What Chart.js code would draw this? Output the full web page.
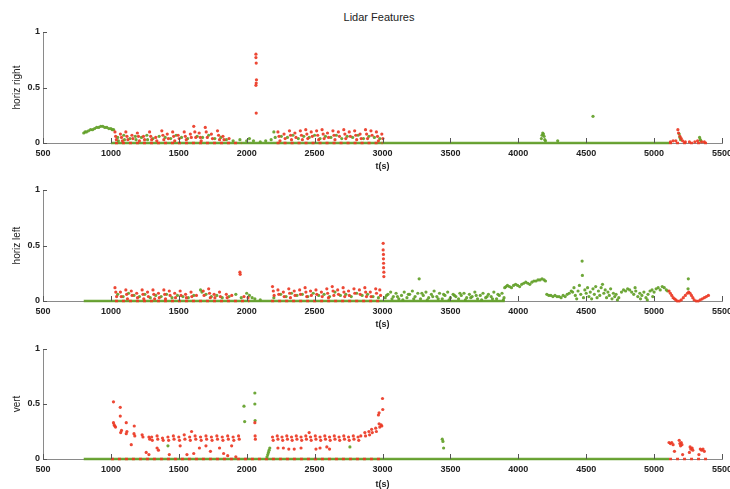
<!DOCTYPE html>
<html>
<head>
<meta charset="utf-8">
<script src="https://cdn.jsdelivr.net/npm/chart.js@4"></script>
<style>
  html, body { margin: 0; padding: 0; background: #fff; overflow: hidden; }
  #wrap { position: relative; width: 730px; height: 489px; }
  canvas { position: absolute; left: 0; }
  #title { position: absolute; top: 11px; left: 300px; width: 158px; text-align: center;
           font: 11px "Liberation Sans", Arial, sans-serif; color: #222; }
</style>
</head>
<body>
<div id="wrap">
  <div id="title">Lidar Features</div>
  <canvas id="c1" width="730" height="171" style="top:0px"></canvas>
  <canvas id="c2" width="730" height="158" style="top:171px"></canvas>
  <canvas id="c3" width="730" height="160" style="top:329px"></canvas>
</div>
<script>
// axes
const xTicks = [500, 1000, 1500, 2000, 2500, 3000, 3500, 4000, 4500, 5000, 5500];
const yTicks = [0, 0.5, 1];

// horiz right
const hrRed = [
  [1030,.10],[1035,.06],[1040,.03],[1070,.08],[1078,.05],[1085,.02],
  [1110,.10],[1118,.06],[1125,.03],[1155,.07],[1162,.04],
  [1195,.09],[1203,.06],[1210,.02],[1240,.06],[1248,.03],
  [1285,.10],[1293,.06],[1300,.03],[1330,.05],[1338,.02],
  [1375,.11],[1383,.07],[1390,.03],[1415,.08],[1423,.04],
  [1455,.10],[1462,.06],[1470,.02],[1495,.07],[1503,.04],
  [1540,.10],[1548,.06],[1555,.03],[1585,.08],[1592,.05],
  [1610,.15],[1618,.10],[1625,.05],[1650,.09],[1658,.05],[1665,.02],
  [1695,.14],[1702,.10],[1710,.05],[1740,.08],[1748,.04],
  [1785,.11],[1793,.07],[1800,.03],[1825,.06],[1833,.03],[1870,.04],
  [2068,.80],[2068,.77],[2070,.72],[2072,.57],[2070,.54],[2068,.52],[2070,.27],
  [2230,.10],[2238,.06],[2245,.02],[2275,.08],[2283,.04],
  [2315,.11],[2323,.07],[2330,.03],[2355,.09],[2363,.05],
  [2395,.11],[2403,.07],[2410,.03],[2435,.12],[2443,.08],[2450,.04],
  [2475,.10],[2483,.06],[2515,.11],[2523,.07],[2530,.03],
  [2555,.12],[2563,.08],[2570,.04],[2595,.09],[2603,.05],
  [2635,.11],[2643,.07],[2650,.03],[2675,.10],[2683,.06],
  [2715,.12],[2723,.08],[2730,.04],[2755,.10],[2763,.06],
  [2795,.11],[2803,.07],[2810,.03],[2835,.08],[2843,.04],
  [2875,.12],[2883,.08],[2890,.04],[2915,.11],[2923,.07],
  [2955,.10],[2963,.06],[2970,.02],[2995,.08],[3003,.04],
  [5120,.01],[5140,.02],[5160,.02],[5175,.12],[5180,.09],[5190,.06],[5200,.04],
  [5210,.02],[5230,.01],[5260,.01],[5300,.01],[5320,.02],[5350,.01],[5370,.01]
];
const hrGreen = [
  [800,.09],[810,.10],[820,.10],[835,.11],[850,.12],[865,.12],[880,.13],[895,.14],
  [910,.14],[925,.15],[940,.15],[955,.14],[970,.14],[985,.13],[1000,.13],[1010,.12],[1020,.12],
  [1050,.05],[1055,.02],[1095,.07],[1100,.03],[1140,.04],[1180,.06],[1185,.03],[1225,.05],
  [1265,.07],[1270,.03],[1310,.04],[1355,.06],[1400,.05],[1440,.04],[1480,.07],[1520,.05],
  [1565,.04],[1635,.06],[1675,.05],[1720,.07],[1765,.04],[1810,.05],[1850,.03],[1900,.02],
  [1950,.03],[2000,.02],[2020,.04],[2050,.02],[2100,.01],[2140,.02],[2180,.03],[2200,.10],
  [2210,.05],[2255,.06],[2300,.05],[2340,.07],[2380,.04],[2420,.06],[2460,.05],[2500,.07],
  [2540,.04],[2580,.06],[2620,.05],[2660,.07],[2700,.04],[2740,.06],[2780,.05],[2820,.07],
  [2860,.04],[2900,.06],[2940,.05],[2980,.04],
  [4170,.04],[4175,.07],[4180,.09],[4185,.08],[4190,.06],[4195,.03],[4200,.02],
  [4290,.02],[4550,.24],
  [5185,.08],[5190,.05],[5195,.03],[5335,.05],[5340,.03],[5345,.02]
];
const hrRedBase = [[1030,0],[1960,0],[2100,null],[2220,0],[3000,0],[4000,null],[5110,0],[5400,0]];
const hrGreenBase = [[1000,0],[5110,0]];

// horiz left
const hlRed = [
  [1030,.12],[1036,.08],[1042,.04],[1070,.08],[1076,.04],[1110,.10],[1116,.06],[1122,.02],
  [1150,.09],[1156,.05],[1190,.07],[1196,.03],[1230,.10],[1236,.06],[1242,.02],
  [1270,.08],[1276,.04],[1310,.10],[1316,.06],[1322,.02],[1350,.07],[1356,.03],
  [1390,.10],[1396,.06],[1402,.02],[1430,.09],[1436,.05],[1470,.07],[1476,.03],
  [1510,.09],[1516,.05],[1550,.06],[1556,.03],[1590,.08],[1596,.04],[1630,.05],
  [1680,.09],[1686,.05],[1720,.11],[1726,.07],[1732,.03],[1760,.06],[1766,.03],
  [1800,.08],[1806,.04],[1850,.06],[1856,.03],[1890,.05],[1950,.26],[1952,.24],
  [1980,.04],[2010,.03],
  [2190,.13],[2196,.09],[2202,.05],[2230,.10],[2236,.06],[2270,.08],[2276,.04],
  [2310,.11],[2316,.07],[2322,.03],[2350,.09],[2356,.05],[2390,.10],[2396,.06],
  [2430,.12],[2436,.08],[2442,.04],[2470,.09],[2476,.05],[2510,.10],[2516,.06],
  [2550,.08],[2556,.04],[2590,.11],[2596,.07],[2602,.03],[2630,.13],[2636,.09],[2642,.05],
  [2670,.10],[2676,.06],[2710,.12],[2716,.08],[2722,.04],[2750,.09],[2756,.05],
  [2790,.11],[2796,.07],[2830,.10],[2836,.06],[2870,.12],[2876,.08],[2882,.04],
  [2910,.08],[2916,.04],[2950,.11],[2956,.07],[2980,.10],[2986,.05],
  [3005,.52],[3005,.46],[3007,.42],[3007,.38],[3008,.34],[3008,.30],[3010,.26],[3010,.22],
  [5110,.09],[5120,.07],[5130,.05],[5140,.03],[5150,.02],[5160,.01],[5170,0],[5185,0],
  [5200,.01],[5215,.03],[5230,.05],[5245,.07],[5255,.08],[5265,.07],[5275,.05],[5285,.03],
  [5295,.01],[5310,0],[5325,0],[5340,.01],[5355,.02],[5370,.03],[5385,.04],[5400,.05]
];
const hlGreen = [
  [1050,.06],[1090,.04],[1130,.07],[1170,.05],[1210,.04],[1250,.06],[1290,.03],[1330,.05],
  [1370,.04],[1410,.06],[1450,.03],[1490,.05],[1530,.04],[1570,.03],[1610,.05],[1660,.10],
  [1670,.08],[1700,.06],[1740,.04],[1780,.05],[1820,.03],[1870,.04],[1920,.06],[1960,.03],
  [2000,.07],[2020,.05],[2040,.03],[2060,.02],[2100,.01],[2200,.03],[2250,.06],[2290,.04],
  [2330,.07],[2370,.05],[2410,.06],[2450,.04],[2490,.07],[2530,.05],[2570,.06],[2610,.04],
  [2650,.08],[2690,.05],[2730,.06],[2770,.04],[2810,.07],[2850,.05],[2890,.06],[2930,.04],
  [2970,.03],
  [3020,.03],[3040,.06],[3060,.08],[3080,.04],[3100,.07],[3120,.02],[3140,.05],[3160,.08],
  [3180,.03],[3200,.06],[3220,.09],[3240,.04],[3260,.07],[3270,.20],[3280,.02],[3300,.05],
  [3320,.08],[3340,.03],[3360,.06],[3380,.09],[3400,.04],[3420,.07],[3440,.02],[3460,.05],
  [3480,.08],[3500,.03],[3520,.06],[3540,.04],[3560,.02],[3580,.05],[3600,.07],[3620,.03],
  [3640,.06],[3660,.04],[3680,.08],[3700,.02],[3720,.05],[3740,.07],[3760,.03],[3780,.06],
  [3800,.04],[3820,.08],[3840,.02],[3860,.05],[3880,.07],[3895,.03],
  [3030,.05],[3070,.02],[3110,.04],[3150,.01],[3190,.06],[3230,.02],[3290,.07],[3330,.01],
  [3370,.04],[3410,.02],[3450,.06],[3490,.01],[3530,.05],[3570,.07],[3610,.01],[3650,.03],
  [3690,.05],[3730,.01],[3770,.04],[3810,.02],[3850,.06],[3890,.01],
  [3900,.12],[3910,.13],[3920,.14],[3935,.13],[3950,.12],[3965,.14],[3980,.15],[3995,.14],
  [4010,.13],[4025,.15],[4040,.16],[4055,.17],[4070,.16],[4085,.15],[4100,.17],[4115,.18],
  [4130,.18],[4145,.19],[4160,.19],[4175,.20],[4190,.19],[4200,.18],
  [4210,.06],[4225,.05],[4240,.05],[4255,.04],[4270,.05],[4285,.04],[4300,.04],[4315,.03],
  [4330,.05],[4345,.04],[4360,.06],[4375,.07],[4390,.09],[4400,.08],
  [4410,.12],[4420,.05],[4430,.02],[4440,.09],[4450,.14],[4460,.06],[4470,.36],[4472,.23],
  [4480,.03],[4490,.10],[4500,.07],[4510,.12],[4520,.04],[4530,.08],[4540,.02],[4550,.11],
  [4560,.06],[4570,.13],[4580,.03],[4590,.09],[4600,.05],[4610,.12],[4620,.15],[4630,.07],
  [4640,.10],[4650,.03],[4660,.08],[4670,.05],[4680,.11],[4690,.02],[4700,.07],[4710,.04],
  [4720,.06],[4730,.01],[4740,.03],
  [4760,.08],[4775,.10],[4790,.09],[4805,.11],[4820,.10],[4835,.08],[4850,.06],[4865,.09],
  [4880,.04],[4895,.07],[4910,.05],[4925,.08],[4940,.03],[4955,.06],[4970,.09],[4985,.10],
  [5000,.08],[5015,.11],[5030,.12],[5045,.10],[5060,.13],[5075,.12],[5090,.10],[5100,.09],
  [4860,.12],[4900,.02],[4950,.01],[4990,.04],
  [5250,.11],[5252,.20]
];
const hlRedBase = [[1030,0],[2020,0],[2100,null],[2180,0],[3000,0]];
const hlGreenBase = [[800,0],[3900,0]];

// vert
const vRed = [
  [1019,.52],[1019,.33],[1024,.31],[1029,.30],[1034,.29],[1069,.47],[1069,.39],[1072,.24],
  [1078,.26],[1113,.33],[1113,.23],[1118,.25],[1150,.13],[1172,.30],[1170,.23],[1176,.21],
  [1230,.22],[1236,.20],[1280,.20],[1286,.18],
  [1300,.20],[1305,.17],[1340,.21],[1345,.18],[1380,.19],[1385,.17],[1420,.20],[1425,.17],
  [1460,.21],[1465,.18],[1500,.20],[1505,.17],[1540,.22],[1545,.18],[1580,.20],[1585,.17],
  [1594,.25],[1620,.21],[1625,.18],[1660,.20],[1665,.17],[1700,.21],[1705,.18],
  [1740,.20],[1745,.17],[1780,.21],[1785,.18],[1820,.20],[1825,.17],[1860,.21],[1865,.18],
  [1900,.20],[1905,.17],[1940,.21],[1945,.18],
  [1260,.06],[1280,.04],[1340,.10],[1350,.08],[1430,.04],[1510,.12],[1560,.04],[1610,.05],
  [1652,.10],[1700,.12],[1733,.07],[1800,.10],[1830,.05],[1860,.03],[1889,.12],[1920,.02],
  [2060,.33],[2062,.21],[2064,.18],
  [2190,.20],[2195,.17],[2225,.21],[2230,.18],[2260,.20],[2265,.17],[2295,.21],[2300,.18],
  [2330,.20],[2335,.17],[2365,.21],[2370,.18],[2400,.20],[2405,.17],[2435,.21],[2440,.18],
  [2470,.20],[2475,.17],[2505,.21],[2510,.18],[2540,.20],[2545,.17],[2575,.21],[2580,.18],
  [2610,.20],[2615,.17],[2645,.21],[2650,.18],[2680,.20],[2685,.17],[2715,.21],[2720,.18],
  [2750,.20],[2755,.17],[2785,.21],[2790,.18],[2820,.20],[2825,.17],[2840,.21],
  [2870,.24],[2875,.21],[2900,.25],[2905,.22],[2920,.27],[2925,.24],[2950,.28],[2955,.25],
  [2975,.32],[2980,.29],[2990,.31],[2995,.30],[2970,.40],[2975,.42],[3002,.45],[3000,.55],
  [2230,.10],[2270,.10],[2310,.09],[2350,.09],[2400,.10],[2460,.24],[2510,.09],[2540,.10],
  [2590,.11],[2610,.09],
  [5110,.15],[5120,.14],[5130,.15],[5140,.13],[5150,.07],[5185,.17],[5190,.14],[5195,.12],
  [5200,.15],[5205,.13],[5210,.04],[5260,.06],[5265,.11],[5270,.09],[5280,.10],[5285,.08],
  [5330,.04],[5340,.09],[5350,.08],[5360,.09],[5370,.07]
];
const vGreen = [
  [1420,.12],[1980,.48],[1985,.34],[2060,.60],[2060,.50],[2062,.35],
  [2150,.02],[2155,.04],[2160,.06],[2165,.08],[2170,.10],[2760,.11],
  [3440,.18],[3445,.16],[3450,.10]
];
const vRedBase = [[1000,0],[3000,0],[4000,null],[5110,0],[5400,0]];
const vGreenBase = [[800,0],[5110,0]];

const RED = 'rgba(236,56,36,0.92)';
const GREEN = 'rgba(98,160,40,0.92)';
const FONT = '"Liberation Sans", Arial, sans-serif';

function pts(arr) {
  return arr.map(p => ({ x: p[0], y: p[1] }));
}

// matlab style ticks drawn inside the axes
const innerTicks = {
  id: 'innerTicks',
  afterDatasetsDraw(chart) {
    const { ctx, chartArea: a, scales: { x, y } } = chart;
    ctx.save();
    ctx.strokeStyle = '#555';
    ctx.lineWidth = 1;
    ctx.beginPath();
    xTicks.forEach(v => {
      const px = Math.round(x.getPixelForValue(v)) + 0.5;
      ctx.moveTo(px, a.bottom);
      ctx.lineTo(px, a.bottom - 5);
    });
    yTicks.forEach(v => {
      const py = Math.round(y.getPixelForValue(v)) + 0.5;
      ctx.moveTo(a.left, py);
      ctx.lineTo(a.left + 4, py);
    });
    ctx.stroke();
    ctx.restore();
  }
};

function makeChart(id, yLabel, padTop, xHeight, red, green, redBase, greenBase) {
  const dots = (d, c) => ({
    type: 'scatter', data: pts(d), backgroundColor: c, borderWidth: 0,
    pointRadius: 1.6, pointHoverRadius: 0, clip: false
  });
  const base = (d, c, dash) => ({
    type: 'line', data: pts(d), borderColor: c, borderWidth: 2.5, borderDash: dash,
    pointRadius: 0, spanGaps: false, showLine: true, fill: false, clip: false
  });
  return new Chart(document.getElementById(id), {
    type: 'scatter',
    data: {
      datasets: [
        dots(red, RED),
        dots(green, GREEN),
        base(redBase, RED, [3, 4]),
        base(greenBase, GREEN, [])
      ]
    },
    options: {
      responsive: false,
      animation: false,
      events: [],
      layout: { padding: { top: padTop, right: 8, left: 0, bottom: 0 } },
      plugins: { legend: { display: false }, tooltip: { enabled: false } },
      scales: {
        x: {
          type: 'linear', min: 500, max: 5500,
          afterBuildTicks: s => { s.ticks = xTicks.map(v => ({ value: v })); },
          afterFit: s => { s.height = xHeight; s.paddingLeft = 0; s.paddingRight = 0; },
          grid: { display: false, drawTicks: false, tickLength: 0 },
          border: { display: true, color: '#8a8a8a', width: 1 },
          ticks: {
            padding: 5, maxRotation: 0, autoSkip: false, color: '#222',
            font: { size: 9, weight: 'bold', family: FONT }, callback: v => String(v)
          },
          title: {
            display: true, text: 't(s)', color: '#222',
            font: { size: 9, weight: 'bold', family: FONT, lineHeight: 1 },
            padding: { top: 0, bottom: 0 }
          }
        },
        y: {
          min: 0, max: 1,
          afterBuildTicks: s => { s.ticks = yTicks.map(v => ({ value: v })); },
          afterFit: s => { s.width = 43; s.paddingTop = 0; s.paddingBottom = 0; },
          grid: { display: false, drawTicks: false, tickLength: 0 },
          border: { display: true, color: '#8a8a8a', width: 1 },
          ticks: {
            padding: 3, color: '#222', font: { size: 9, weight: 'bold', family: FONT },
            callback: v => String(v)
          },
          title: {
            display: true, text: yLabel, color: '#222',
            font: { size: 10, family: FONT, lineHeight: 1 },
            padding: { top: 12, bottom: 0 }
          }
        }
      }
    },
    plugins: [innerTicks]
  });
}

makeChart('c1', 'horiz right', 32, 28, hrRed, hrGreen, hrRedBase, hrGreenBase);
makeChart('c2', 'horiz left', 19, 28, hlRed, hlGreen, hlRedBase, hlGreenBase);
makeChart('c3', 'vert', 20, 30, vRed, vGreen, vRedBase, vGreenBase);
</script>
</body>
</html>
